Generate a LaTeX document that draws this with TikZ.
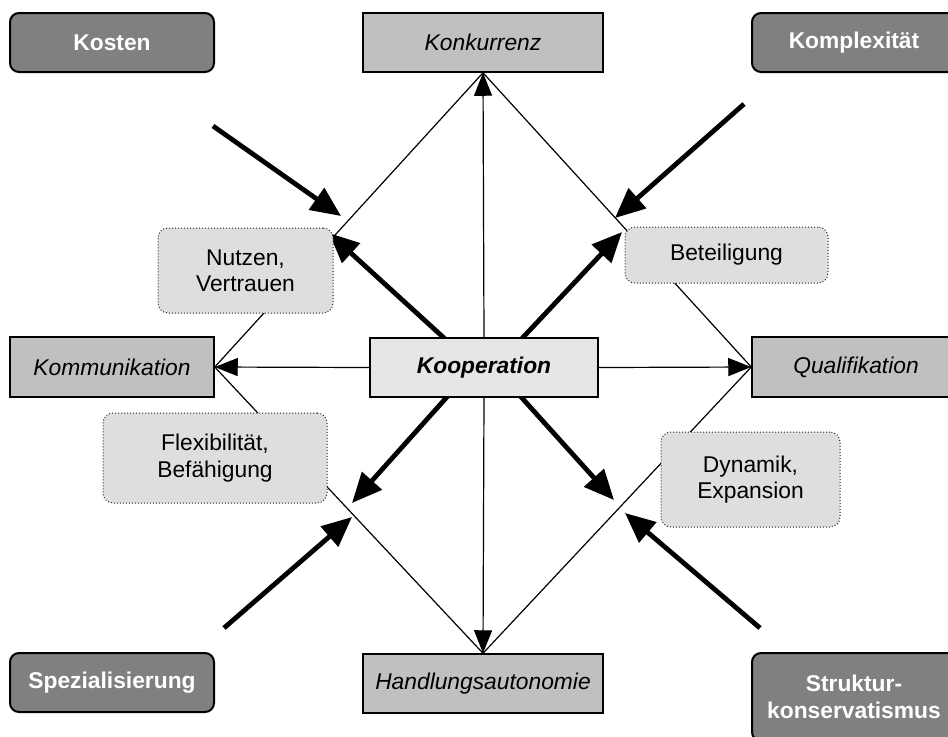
\documentclass[tikz,border=0pt]{standalone}
\usepackage{fontspec}
\setmainfont{Liberation Sans}
\usetikzlibrary{arrows.meta}
\definecolor{darkbox}{HTML}{808080}
\definecolor{midbox}{HTML}{C0C0C0}
\definecolor{lightbox}{HTML}{E6E6E6}
\definecolor{notebox}{HTML}{DEDEDE}
\tikzset{
  every node/.style={font=\fontsize{11.4}{13.2}\selectfont, align=center, inner sep=0pt},
  factor/.style={draw=black, line width=1pt, rounded corners=4.5pt, fill=darkbox,
    text=white, font=\fontsize{11.4}{13.2}\selectfont\bfseries, minimum width=102pt, minimum height=29.5pt},
  axis/.style={draw=black, line width=0.75pt, fill=midbox,
    font=\fontsize{11.4}{13.2}\selectfont\itshape, minimum height=29.5pt},
  core/.style={draw=black, line width=0.8pt, fill=lightbox,
    font=\fontsize{11.4}{13.2}\selectfont\bfseries\itshape, minimum width=114pt, minimum height=29.5pt},
  note/.style={draw=black!85, line width=0.5pt, densely dotted, rounded corners=5pt, fill=notebox},
  edge/.style={line width=0.6pt},
  thin arrow/.style={line width=0.6pt, -{Triangle[length=11.5pt,width=9pt]}},
  thick arrow/.style={line width=2.4pt, -{Triangle[length=15pt,width=13pt]}},
}
\begin{document}
\begin{tikzpicture}[x=0.5pt, y=-0.5pt]
  \useasboundingbox (0,0) rectangle (948,736);
  \clip (0,0) rectangle (948,736);
  \fill[white] (0,0) rectangle (948,736);

  % the four axes around the centre
  \node[axis, minimum width=120pt] (konk) at (483,42.5) {Konkurrenz};
  \node[axis, minimum width=102pt, minimum height=30pt] (komm) at (112,367) {Kommunikation};
  \node[axis, minimum width=104pt, minimum height=30pt] (qual) at (856,367) {Qualifikation};
  \node[axis, minimum width=120pt] (hand) at (483,683.5) {Handlungsautonomie};

  % diamond joining the axes
  \draw[edge] (konk.south) -- (komm.east) -- (hand.north) -- (qual.west) -- cycle;

  % thick arrows from the centre outwards
  \coordinate (cNW) at (455,348);
  \coordinate (cNE) at (513,348);
  \coordinate (cSW) at (455,388);
  \coordinate (cSE) at (513,388);
  \coordinate (tNW) at (329,233);
  \coordinate (tNE) at (622,232);
  \coordinate (tSW) at (352,503);
  \coordinate (tSE) at (614,500);
  \draw[thick arrow] (cNW) -- (tNW);
  \draw[thick arrow] (cNE) -- (tNE);
  \draw[thick arrow] (cSW) -- (tSW);
  \draw[thick arrow] (cSE) -- (tSE);

  % centre
  \node[core] (koop) at (484,367.5) {Kooperation};
  \draw[thin arrow] (koop.north) -- (konk.south);
  \draw[thin arrow] (koop.south) -- (hand.north);
  \draw[thin arrow] (koop.west) -- (komm.east);
  \draw[thin arrow] (koop.east) -- (qual.west);

  % notes on the diamond
  \node[note, minimum width=87.5pt, minimum height=42.5pt] (nutz) at (245.5,270.5) {Nutzen,\\Vertrauen};
  \node[note, minimum width=101.5pt, minimum height=28pt] (bete) at (726.5,255) {Beteiligung};
  \node[note, minimum width=112pt, minimum height=45pt] (flex) at (215,458) {Flexibilität,\\Befähigung};
  \node[note, minimum width=89.5pt, minimum height=47.5pt] (dyna) at (750.5,479.5) {Dynamik,\\Expansion};

  % outer factors
  \node[factor] (kost) at (112,42.5) {Kosten};
  \node[factor] (kompl) at (854,42.5) {Komplexität};
  \node[factor] (spez) at (112,682.5) {Spezialisierung};
  \node[factor, minimum height=44pt] (strk) at (854,697) {Struktur-\\konservatismus};

  % thick arrows from the outer factors inwards
  \coordinate (sKost) at (213,126);
  \coordinate (eKost) at (341,216);
  \coordinate (sKompl) at (744,104);
  \coordinate (eKompl) at (615,218);
  \coordinate (sSpez) at (224,628);
  \coordinate (eSpez) at (352,517);
  \coordinate (sStrk) at (760,628);
  \coordinate (eStrk) at (625,513);
  \draw[thick arrow] (sKost) -- (eKost);
  \draw[thick arrow] (sKompl) -- (eKompl);
  \draw[thick arrow] (sSpez) -- (eSpez);
  \draw[thick arrow] (sStrk) -- (eStrk);
\end{tikzpicture}
\end{document}
